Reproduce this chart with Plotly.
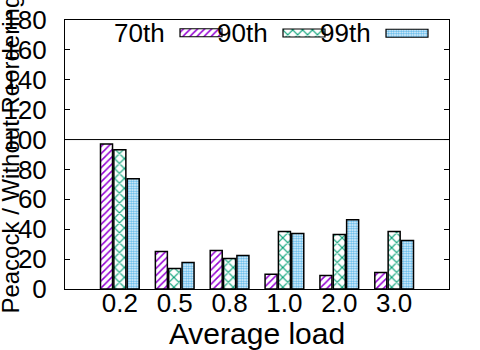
import plotly.graph_objects as go

loads = ['0.2', '0.5', '0.8', '1.0', '2.0', '3.0']
p70 = [97.1, 25.1, 25.8, 9.8, 9.1, 11.1]
p90 = [93.1, 13.8, 20.4, 38.4, 36.4, 38.4]
p99 = [73.8, 17.8, 22.4, 37.1, 46.4, 32.4]
names = ['70th', '90th', '99th']

font = 'Liberation Sans, Arial, sans-serif'
styles = [dict(shape='/', fgcolor='#9400d3', size=5, solidity=0.3),
          dict(shape='x', fgcolor='#009e73', size=7, solidity=0.3),
          dict(shape='.', fgcolor='#56b4e9', size=2.5, solidity=0.6)]

fig = go.Figure()
for name, vals, st in zip(names, [p70, p90, p99], styles):
    fig.add_trace(go.Bar(x=loads, y=vals, name=name, showlegend=False,
                         marker=dict(color='white',
                                     line=dict(color='black', width=1.5),
                                     pattern=dict(fillmode='replace', bgcolor='white', **st))))

# gnuplot-style key: label on the left, wide sample box on the right
key_x0, key_step, sample_w, key_y = 180, 103, 42, 33
for i, (name, st) in enumerate(zip(names, styles)):
    x0 = key_x0 + i * key_step
    fig.add_trace(go.Bar(y=[key_y], x=[sample_w], base=[x0], orientation='h', width=8,
                         xaxis='x2', yaxis='y2', showlegend=False, hoverinfo='skip',
                         marker=dict(color='white',
                                     line=dict(color='black', width=1.2),
                                     pattern=dict(fillmode='replace', bgcolor='white', **st))))
    fig.add_annotation(x=x0 - 13, y=key_y, xref='x2', yref='y2', text=name,
                       showarrow=False, xanchor='right', yanchor='middle',
                       font=dict(size=26, color='black', family=font))

fig.add_hline(y=100, line=dict(color='black', width=1))

# y title sits far left, overlapping the tick labels as in the original
fig.add_annotation(x=-0.143, y=0.5, xref='paper', yref='paper', text='Peacock / Without Reordering',
                   textangle=-90, showarrow=False, xanchor='center', yanchor='middle',
                   font=dict(size=24, color='black', family=font))

fig.update_layout(
    width=480, height=350,
    margin=dict(l=65, r=31, t=20, b=61),
    plot_bgcolor='white', paper_bgcolor='white',
    font=dict(family=font, size=26, color='black'),
    barmode='group', bargap=0.27, bargroupgap=0.1,
    xaxis=dict(range=[-1, 6], showline=True, linecolor='black', linewidth=1, mirror=True,
               ticks='', ticklen=0, ticklabelstandoff=-9, showgrid=False, automargin=False,
               title=dict(text='Average load', font=dict(size=30), standoff=0)),
    yaxis=dict(range=[0, 180], dtick=20, showline=True, linecolor='black', linewidth=1,
               mirror='ticks', ticks='inside', ticklen=5, tickcolor='black',
               ticklabelstandoff=12, showgrid=False, zeroline=False, automargin=False),
    xaxis2=dict(domain=[0, 1], range=[65, 449], overlaying='x', visible=False),
    yaxis2=dict(domain=[0, 1], range=[289, 20], overlaying='y', visible=False),
)

# drop the default 8px page margin so the figure sits at the window corner
fig.write_html("out.html", config={'displayModeBar': False},
               post_script="document.body.style.margin = '0';")
